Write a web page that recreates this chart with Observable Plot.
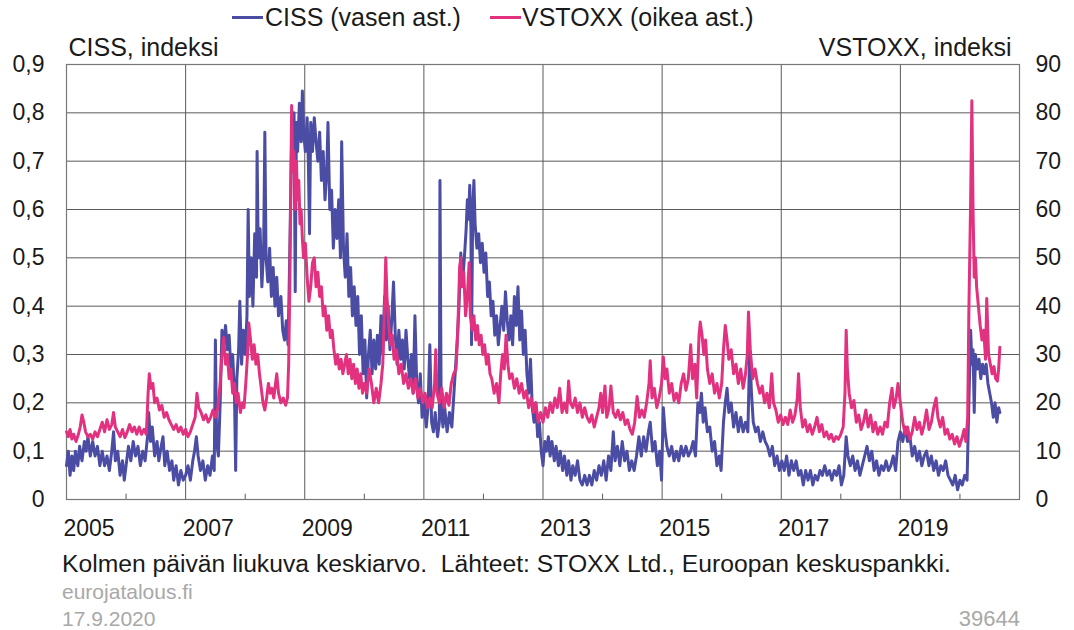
<!DOCTYPE html>
<html>
<head>
<meta charset="utf-8">
<script src="https://cdn.jsdelivr.net/npm/d3@7"></script>
<script src="https://cdn.jsdelivr.net/npm/@observablehq/plot@0.6"></script>
<style>
  html, body { margin: 0; padding: 0; background: #fff; }
  body { width: 1074px; height: 630px; overflow: hidden; font-family: "Liberation Sans", Arial, sans-serif; color: #1a1a1a; }
  #legend { position: relative; height: 20px; font-size: 25px; z-index: 2; }
  #legend .sw { position: absolute; top: 16px; height: 3px; width: 31px; }
  #legend .lb { position: absolute; top: 0; line-height: 34px; white-space: nowrap; }
  #chart { position: relative; z-index: 1; }
  #footer { padding-left: 62px; padding-right: 54px; }
  #footer .l1 { font-size: 24.7px; line-height: 30px; padding-top: 4px; white-space: nowrap; }
  #footer .l2 { font-size: 21px; line-height: 26px; color: #a8a8a8; }
  #footer .l3 { font-size: 21px; line-height: 27px; color: #a8a8a8; display: flex; justify-content: space-between; }
  #footer .l3 span:last-child { font-size: 22px; }
</style>
</head>
<body>
<div id="legend">
  <div class="sw" style="left:232px;background:#4b4ca3"></div>
  <div class="lb" style="left:265px">CISS (vasen ast.)</div>
  <div class="sw" style="left:490px;background:#e2317f"></div>
  <div class="lb" style="left:522px">VSTOXX (oikea ast.)</div>
</div>
<div id="chart"></div>
<div id="footer">
  <div class="l1">Kolmen päivän liukuva keskiarvo.&nbsp; Lähteet: STOXX Ltd., Euroopan keskuspankki.</div>
  <div class="l2">eurojatalous.fi</div>
  <div class="l3"><span>17.9.2020</span><span>39644</span></div>
</div>
<script>
// CISS (left axis, index)
const ciss = [
[2005.00,0.07],[2005.03,0.10],[2005.06,0.05],[2005.09,0.09],[2005.12,0.06],[2005.15,0.10],[2005.19,0.07],[2005.22,0.11],[2005.26,0.08],[2005.30,0.12],
[2005.33,0.10],[2005.36,0.13],[2005.40,0.09],[2005.44,0.12],[2005.48,0.09],[2005.52,0.11],[2005.56,0.07],[2005.60,0.10],[2005.64,0.07],[2005.68,0.09],
[2005.72,0.06],[2005.76,0.10],[2005.79,0.14],[2005.82,0.08],[2005.86,0.10],[2005.90,0.05],[2005.94,0.08],[2005.97,0.04],
[2006.00,0.07],[2006.04,0.11],[2006.08,0.08],[2006.12,0.12],[2006.16,0.09],[2006.20,0.11],[2006.24,0.07],[2006.28,0.10],[2006.32,0.08],[2006.36,0.13],
[2006.38,0.18],[2006.41,0.12],[2006.44,0.15],[2006.48,0.09],[2006.52,0.12],[2006.55,0.08],[2006.59,0.11],[2006.62,0.13],[2006.65,0.07],[2006.69,0.10],
[2006.73,0.06],[2006.77,0.08],[2006.80,0.04],[2006.84,0.07],[2006.88,0.03],[2006.92,0.06],[2006.96,0.04],
[2007.00,0.05],[2007.04,0.07],[2007.08,0.04],[2007.12,0.08],[2007.15,0.10],[2007.18,0.13],[2007.21,0.09],[2007.25,0.06],[2007.29,0.08],[2007.33,0.04],
[2007.37,0.07],[2007.41,0.05],[2007.45,0.09],[2007.48,0.06],[2007.50,0.33],[2007.52,0.12],[2007.55,0.09],[2007.58,0.20],[2007.61,0.35],[2007.64,0.32],
[2007.67,0.36],[2007.70,0.31],[2007.73,0.34],[2007.76,0.27],[2007.79,0.30],[2007.82,0.22],[2007.84,0.06],[2007.86,0.25],[2007.89,0.31],[2007.91,0.41],
[2007.94,0.28],[2007.97,0.35],
[2008.00,0.30],[2008.03,0.38],[2008.05,0.60],[2008.07,0.42],[2008.10,0.50],[2008.13,0.40],[2008.16,0.55],[2008.19,0.46],[2008.20,0.72],[2008.22,0.50],
[2008.25,0.56],[2008.28,0.44],[2008.31,0.52],[2008.33,0.76],[2008.35,0.50],[2008.38,0.45],[2008.41,0.52],[2008.44,0.42],[2008.47,0.48],[2008.50,0.40],
[2008.53,0.46],[2008.56,0.38],[2008.60,0.42],[2008.63,0.35],[2008.66,0.33],[2008.69,0.37],[2008.72,0.32],[2008.74,0.45],[2008.76,0.60],[2008.78,0.75],
[2008.80,0.68],[2008.82,0.80],[2008.84,0.43],[2008.86,0.78],[2008.88,0.72],[2008.91,0.82],[2008.94,0.74],[2008.96,0.845],[2008.98,0.76],
[2009.01,0.72],[2009.04,0.79],[2009.06,0.70],[2009.08,0.55],[2009.10,0.78],[2009.13,0.72],[2009.16,0.79],[2009.19,0.74],[2009.22,0.70],[2009.25,0.76],
[2009.28,0.66],[2009.31,0.72],[2009.34,0.62],[2009.37,0.68],[2009.39,0.78],[2009.42,0.60],[2009.45,0.64],[2009.48,0.52],[2009.51,0.60],[2009.54,0.54],
[2009.57,0.62],[2009.60,0.50],[2009.62,0.74],[2009.65,0.52],[2009.68,0.46],[2009.71,0.55],[2009.74,0.42],[2009.77,0.48],[2009.80,0.38],[2009.83,0.44],
[2009.86,0.36],[2009.89,0.42],[2009.92,0.30],[2009.95,0.38],[2009.98,0.26],
[2010.01,0.33],[2010.04,0.21],[2010.07,0.30],[2010.10,0.35],[2010.13,0.26],[2010.16,0.33],[2010.19,0.27],[2010.22,0.34],[2010.25,0.28],[2010.28,0.38],
[2010.31,0.30],[2010.34,0.42],[2010.37,0.33],[2010.40,0.40],[2010.43,0.31],[2010.46,0.37],[2010.49,0.45],[2010.52,0.34],[2010.55,0.28],[2010.58,0.35],
[2010.61,0.29],[2010.64,0.33],[2010.67,0.27],[2010.70,0.35],[2010.73,0.29],[2010.76,0.25],[2010.79,0.30],[2010.82,0.22],[2010.85,0.38],[2010.88,0.24],
[2010.91,0.20],[2010.94,0.26],[2010.97,0.17],
[2011.00,0.21],[2011.04,0.15],[2011.07,0.19],[2011.10,0.32],[2011.13,0.16],[2011.16,0.14],[2011.19,0.18],[2011.23,0.13],[2011.26,0.16],[2011.27,0.66],
[2011.29,0.20],[2011.32,0.15],[2011.35,0.19],[2011.39,0.14],[2011.43,0.18],[2011.47,0.15],[2011.50,0.21],[2011.53,0.27],[2011.56,0.33],[2011.59,0.40],
[2011.62,0.51],[2011.65,0.45],[2011.68,0.50],[2011.71,0.56],[2011.73,0.62],[2011.75,0.58],[2011.77,0.65],[2011.79,0.56],[2011.80,0.32],[2011.82,0.60],
[2011.84,0.66],[2011.86,0.57],[2011.89,0.52],[2011.92,0.55],[2011.95,0.49],[2011.98,0.53],
[2012.01,0.47],[2012.04,0.51],[2012.07,0.42],[2012.10,0.45],[2012.13,0.38],[2012.16,0.41],[2012.19,0.34],[2012.22,0.38],[2012.25,0.32],[2012.28,0.36],
[2012.31,0.40],[2012.34,0.35],[2012.37,0.43],[2012.40,0.37],[2012.43,0.33],[2012.46,0.38],[2012.49,0.32],[2012.52,0.42],[2012.55,0.36],[2012.58,0.44],
[2012.61,0.33],[2012.64,0.39],[2012.67,0.30],[2012.70,0.35],[2012.73,0.26],[2012.76,0.22],[2012.79,0.29],[2012.82,0.19],[2012.85,0.16],[2012.88,0.20],
[2012.91,0.13],[2012.94,0.16],[2012.97,0.10],
[2013.00,0.07],[2013.03,0.12],[2013.06,0.10],[2013.09,0.13],[2013.12,0.09],[2013.15,0.12],[2013.19,0.08],[2013.22,0.11],[2013.26,0.07],[2013.29,0.10],
[2013.33,0.06],[2013.36,0.09],[2013.40,0.05],[2013.43,0.08],[2013.47,0.04],[2013.50,0.07],[2013.54,0.05],[2013.58,0.08],[2013.62,0.04],[2013.66,0.03],
[2013.70,0.05],[2013.74,0.03],[2013.78,0.05],[2013.82,0.03],[2013.86,0.06],[2013.90,0.04],[2013.94,0.07],[2013.98,0.05],
[2014.02,0.08],[2014.06,0.04],[2014.10,0.09],[2014.14,0.06],[2014.18,0.14],[2014.21,0.08],[2014.25,0.11],[2014.29,0.07],[2014.33,0.12],[2014.37,0.08],
[2014.41,0.10],[2014.45,0.06],[2014.49,0.08],[2014.53,0.06],[2014.57,0.09],[2014.61,0.13],[2014.65,0.09],[2014.69,0.13],[2014.73,0.10],[2014.77,0.14],
[2014.80,0.16],[2014.84,0.10],[2014.88,0.12],[2014.92,0.07],[2014.96,0.10],[2014.99,0.04],
[2015.02,0.19],[2015.05,0.14],[2015.08,0.11],[2015.12,0.09],[2015.16,0.11],[2015.20,0.08],[2015.24,0.10],[2015.28,0.08],[2015.32,0.11],[2015.36,0.09],
[2015.40,0.11],[2015.44,0.09],[2015.48,0.10],[2015.52,0.12],[2015.56,0.09],[2015.60,0.20],[2015.63,0.18],[2015.66,0.22],[2015.69,0.16],[2015.72,0.19],
[2015.76,0.14],[2015.80,0.15],[2015.84,0.10],[2015.88,0.12],[2015.92,0.07],[2015.96,0.09],[2015.99,0.06],
[2016.03,0.16],[2016.06,0.20],[2016.09,0.23],[2016.12,0.18],[2016.16,0.20],[2016.20,0.15],[2016.24,0.18],[2016.28,0.14],[2016.32,0.17],[2016.36,0.14],
[2016.40,0.16],[2016.44,0.14],[2016.47,0.31],[2016.50,0.22],[2016.53,0.16],[2016.57,0.14],[2016.61,0.15],[2016.65,0.12],[2016.69,0.14],[2016.73,0.12],
[2016.77,0.11],[2016.81,0.09],[2016.85,0.11],[2016.89,0.07],[2016.93,0.09],[2016.97,0.06],
[2017.01,0.08],[2017.05,0.06],[2017.09,0.09],[2017.13,0.05],[2017.17,0.08],[2017.21,0.06],[2017.25,0.08],[2017.29,0.05],[2017.33,0.06],[2017.37,0.03],
[2017.41,0.06],[2017.45,0.04],[2017.49,0.06],[2017.53,0.03],[2017.57,0.05],[2017.61,0.04],[2017.65,0.06],[2017.69,0.05],[2017.73,0.07],[2017.77,0.05],
[2017.81,0.06],[2017.85,0.04],[2017.89,0.06],[2017.93,0.05],[2017.97,0.07],
[2018.01,0.03],[2018.05,0.05],[2018.09,0.13],[2018.12,0.09],[2018.16,0.07],[2018.20,0.09],[2018.24,0.06],[2018.28,0.08],[2018.32,0.05],[2018.36,0.07],
[2018.40,0.09],[2018.44,0.11],[2018.48,0.08],[2018.52,0.10],[2018.56,0.06],[2018.60,0.08],[2018.64,0.05],[2018.68,0.07],[2018.72,0.06],[2018.76,0.08],
[2018.80,0.06],[2018.84,0.07],[2018.88,0.09],[2018.92,0.06],[2018.96,0.12],
[2019.00,0.14],[2019.04,0.12],[2019.08,0.15],[2019.12,0.12],[2019.16,0.13],[2019.20,0.09],[2019.24,0.11],[2019.28,0.08],[2019.32,0.10],[2019.36,0.07],
[2019.40,0.09],[2019.44,0.10],[2019.48,0.07],[2019.52,0.09],[2019.56,0.06],[2019.60,0.08],[2019.64,0.05],[2019.68,0.07],[2019.72,0.06],[2019.76,0.08],
[2019.80,0.05],[2019.84,0.04],[2019.88,0.03],[2019.92,0.05],[2019.96,0.02],
[2020.00,0.04],[2020.04,0.03],[2020.08,0.05],[2020.12,0.04],[2020.15,0.20],[2020.18,0.35],[2020.20,0.28],[2020.22,0.31],[2020.24,0.18],[2020.26,0.30],
[2020.29,0.27],[2020.32,0.29],[2020.35,0.25],[2020.38,0.28],[2020.41,0.26],[2020.44,0.28],[2020.47,0.24],[2020.50,0.22],[2020.53,0.20],[2020.56,0.17],
[2020.59,0.20],[2020.62,0.16],[2020.65,0.19],[2020.67,0.18]
];

// VSTOXX (right axis, index)
const vstoxx = [
[2005.00,14],[2005.03,13],[2005.06,14.5],[2005.09,12.5],[2005.12,13.5],[2005.16,12],[2005.20,13.5],[2005.23,15],[2005.26,17.5],[2005.29,16],
[2005.32,14],[2005.36,13],[2005.40,13.5],[2005.44,12.5],[2005.48,14],[2005.52,13],[2005.56,14.5],[2005.60,16],[2005.64,14],[2005.68,16.5],
[2005.72,14.5],[2005.76,15.5],[2005.79,18],[2005.82,15],[2005.86,14],[2005.90,13],[2005.94,14.5],[2005.98,12.8],
[2006.02,14],[2006.06,15.5],[2006.10,14],[2006.14,15],[2006.18,13.5],[2006.22,15],[2006.26,13.5],[2006.30,14.5],[2006.34,13.5],[2006.37,22],
[2006.39,26],[2006.42,23],[2006.45,24],[2006.48,20],[2006.52,21],[2006.56,18.5],[2006.60,19.5],[2006.64,17],[2006.68,18],[2006.72,16.5],
[2006.76,15.5],[2006.80,14.5],[2006.84,15.5],[2006.88,14],[2006.92,15],[2006.96,13.5],
[2007.00,14.5],[2007.04,13],[2007.08,14],[2007.12,15.5],[2007.16,17],[2007.19,22],[2007.22,19],[2007.26,18],[2007.30,16.5],[2007.34,17.5],
[2007.38,16],[2007.42,17],[2007.46,18.5],[2007.50,17],[2007.54,19],[2007.58,24],[2007.61,30],[2007.64,33.5],[2007.67,28],[2007.70,30],
[2007.73,25],[2007.76,27],[2007.79,22],[2007.82,24],[2007.85,20],[2007.88,22],[2007.92,18],[2007.95,20],[2007.98,19],
[2008.01,24],[2008.04,30],[2008.06,36.5],[2008.09,33],[2008.12,29],[2008.15,32],[2008.18,28],[2008.21,30],[2008.24,26],[2008.27,23],
[2008.30,20],[2008.33,18.5],[2008.36,21],[2008.39,24],[2008.42,22],[2008.45,23],[2008.48,21],[2008.51,24],[2008.53,26],[2008.56,22],
[2008.60,20],[2008.64,21],[2008.68,19.5],[2008.71,21],[2008.73,28],[2008.75,45],[2008.78,81.5],[2008.80,68],[2008.82,72],[2008.84,60],
[2008.86,70],[2008.88,62],[2008.90,66],[2008.92,57],[2008.94,60],[2008.96,54],[2008.98,50],
[2009.01,53],[2009.04,46],[2009.07,41],[2009.10,44],[2009.13,49],[2009.16,50],[2009.19,44],[2009.22,47],[2009.25,42],[2009.28,44],
[2009.31,38],[2009.34,40],[2009.37,35],[2009.40,38],[2009.43,33.5],[2009.46,35],[2009.49,31],[2009.52,28],[2009.55,30],[2009.58,27],
[2009.61,29],[2009.64,26],[2009.67,28],[2009.70,30],[2009.73,26],[2009.76,29],[2009.79,25],[2009.82,28],[2009.85,24],[2009.88,27],
[2009.91,23],[2009.94,26],[2009.97,22],
[2010.00,24],[2010.04,22],[2010.08,27],[2010.12,24],[2010.16,20],[2010.20,23],[2010.24,20],[2010.28,24],[2010.31,28],[2010.34,40],
[2010.36,50],[2010.38,42],[2010.41,36],[2010.44,32],[2010.47,34],[2010.50,29],[2010.54,31],[2010.58,26],[2010.62,28],[2010.66,24],
[2010.70,26],[2010.74,23],[2010.78,25],[2010.82,22],[2010.86,25],[2010.90,21],[2010.94,23],[2010.98,20],
[2011.02,22],[2011.06,19],[2011.10,21],[2011.14,19],[2011.18,24],[2011.20,31],[2011.22,22],[2011.26,20],[2011.30,23],[2011.34,19],
[2011.38,22],[2011.42,19.5],[2011.46,24],[2011.50,26],[2011.54,27],[2011.57,35],[2011.60,48],[2011.62,50],[2011.64,44],[2011.67,47],
[2011.70,38],[2011.73,42],[2011.76,49],[2011.78,38],[2011.81,35],[2011.84,38],[2011.87,33],[2011.90,36],[2011.93,32],[2011.96,34],[2011.99,30],
[2012.02,32],[2012.05,28],[2012.08,30],[2012.11,26],[2012.14,25],[2012.18,22],[2012.22,24],[2012.26,20],[2012.29,26],[2012.32,30],
[2012.35,27],[2012.38,34],[2012.41,28],[2012.44,25],[2012.48,26],[2012.52,23],[2012.56,25],[2012.60,22],[2012.64,24],[2012.68,21],
[2012.72,22.5],[2012.76,19],[2012.80,21],[2012.84,18],[2012.88,20],[2012.92,16],[2012.96,18],
[2013.00,16],[2013.04,19],[2013.08,17],[2013.12,20],[2013.16,18],[2013.20,21],[2013.24,19],[2013.28,23],[2013.32,18],[2013.36,20],
[2013.40,18],[2013.43,24.5],[2013.46,20],[2013.50,19],[2013.54,21],[2013.58,18],[2013.62,20],[2013.66,17],[2013.70,19],[2013.74,17],
[2013.78,16],[2013.82,17.5],[2013.86,15],[2013.90,17],[2013.94,19],[2013.97,22],
[2014.00,18],[2014.04,23.5],[2014.07,17],[2014.11,19],[2014.14,23.5],[2014.18,18],[2014.22,17],[2014.26,18.5],[2014.30,16.5],[2014.34,18],
[2014.38,15.5],[2014.42,16.5],[2014.46,14.5],[2014.50,13.5],[2014.54,16],[2014.58,21.3],[2014.62,17],[2014.66,18.5],[2014.70,17],[2014.74,20],
[2014.78,24],[2014.80,28.7],[2014.83,21],[2014.87,23],[2014.91,19],[2014.95,21],[2014.99,24],
[2015.02,29.5],[2015.05,25],[2015.08,27],[2015.12,22],[2015.16,24],[2015.20,20.5],[2015.24,22],[2015.28,20],[2015.32,24],[2015.36,26],
[2015.40,22.6],[2015.44,25],[2015.48,32],[2015.51,25],[2015.55,28],[2015.58,21],[2015.62,34],[2015.64,36.7],[2015.67,34],[2015.70,30],
[2015.73,33],[2015.76,27],[2015.80,24],[2015.84,26],[2015.88,22],[2015.92,24],[2015.96,21],
[2016.00,24],[2016.03,31],[2016.06,36],[2016.09,33],[2016.12,29],[2016.16,31],[2016.20,26],[2016.24,28],[2016.28,24],[2016.32,27],
[2016.36,23],[2016.40,26],[2016.43,30],[2016.45,38.8],[2016.48,31],[2016.52,25],[2016.56,27],[2016.60,24],[2016.64,22],[2016.68,23.5],
[2016.72,20],[2016.76,22],[2016.80,19],[2016.84,26],[2016.87,20],[2016.91,18.5],[2016.95,16],[2016.99,17.5],
[2017.03,15.5],[2017.07,17],[2017.11,15.5],[2017.15,18.5],[2017.19,16],[2017.23,17.5],[2017.27,21],[2017.29,26],[2017.32,19],[2017.36,15],
[2017.40,16.5],[2017.44,14],[2017.48,15.5],[2017.52,13.5],[2017.56,15],[2017.60,17],[2017.64,14],[2017.68,15.5],[2017.72,13],[2017.76,14],
[2017.80,12.5],[2017.84,13.5],[2017.88,12],[2017.92,13],[2017.96,12.5],
[2018.00,13.5],[2018.04,15],[2018.07,22],[2018.09,35],[2018.11,27],[2018.14,22],[2018.18,19],[2018.22,20.5],[2018.26,16],[2018.30,17.5],
[2018.34,14.5],[2018.38,16],[2018.42,18.5],[2018.46,15],[2018.50,17.5],[2018.54,14],[2018.58,16],[2018.62,13.5],[2018.66,15],[2018.70,13.5],
[2018.74,16],[2018.78,15],[2018.82,20],[2018.86,23],[2018.89,19],[2018.93,21],[2018.96,24],
[2019.00,20],[2019.04,16],[2019.08,13.5],[2019.12,15],[2019.16,12.5],[2019.20,14],[2019.24,17],[2019.28,14.5],[2019.32,16],[2019.36,13.5],
[2019.40,15.5],[2019.44,18.5],[2019.48,14.5],[2019.52,16],[2019.56,19],[2019.60,21],[2019.63,17],[2019.67,15],[2019.71,17],[2019.75,13.5],
[2019.79,14.5],[2019.83,12.5],[2019.87,13.5],[2019.91,11.5],[2019.95,13],[2019.99,11],
[2020.03,12.5],[2020.07,14.5],[2020.10,12],[2020.13,17],[2020.15,39],[2020.18,62],[2020.20,82.5],[2020.22,60],[2020.24,46],[2020.26,50],
[2020.28,44],[2020.31,40],[2020.34,36],[2020.37,33],[2020.40,35],[2020.43,29],[2020.45,41.6],[2020.48,30],[2020.51,28],[2020.54,26],
[2020.57,27.5],[2020.60,25],[2020.63,24.5],[2020.65,27],[2020.67,31.5]
];

const xDomain = [2005, 2021];
const gridYears = [2007, 2009, 2011, 2013, 2015, 2017, 2019];
const minorYears = [2006, 2008, 2010, 2012, 2014, 2016, 2018, 2020];
const labelYears = [2005, 2007, 2009, 2011, 2013, 2015, 2017, 2019];
const leftTicks = [0, 0.1, 0.2, 0.3, 0.4, 0.5, 0.6, 0.7, 0.8, 0.9];
const rightScale = 100; // VSTOXX 0–90 maps onto CISS 0–0.9
const leftTitle = "CISS, indeksi";
const rightTitle = "VSTOXX, indeksi";

const gridColor = "#5a5a5a";
const cissColor = "#4b4ca3";
const vstoxxColor = "#e2317f";

const chart = Plot.plot({
  width: 1074,
  height: 525,
  marginTop: 44,
  marginLeft: 66,
  marginRight: 55,
  marginBottom: 46,
  x: { domain: xDomain },
  y: { domain: [0, 0.9] },
  style: { fontFamily: "'Liberation Sans', Arial, sans-serif", fontSize: "23px", color: "#1a1a1a", background: "transparent" },
  marks: [
    Plot.gridY(leftTicks, { stroke: gridColor, strokeOpacity: 1, strokeWidth: 1 }),
    Plot.gridX(gridYears, { stroke: gridColor, strokeOpacity: 1, strokeWidth: 1 }),
    Plot.ruleX(minorYears, { y1: 0, y2: 0.011, stroke: gridColor, strokeWidth: 1 }),
    Plot.frame({ stroke: "#777", strokeWidth: 1.2 }),
    Plot.axisY(leftTicks, { anchor: "left", tickSize: 0, tickPadding: 22, label: null,
      tickFormat: d => d === 0 ? "0" : d.toFixed(1).replace(".", ",") }),
    Plot.axisY(leftTicks, { anchor: "right", tickSize: 0, tickPadding: 16, label: null, textAnchor: "start",
      tickFormat: d => String(Math.round(d * rightScale)) }),
    Plot.axisX(labelYears, { anchor: "bottom", tickSize: 0, tickPadding: 20, label: null, textAnchor: "start", dx: -3,
      tickFormat: d => String(d) }),
    Plot.line(ciss, { x: d => d[0], y: d => d[1], stroke: cissColor, strokeWidth: 3, strokeLinejoin: "round" }),
    Plot.line(vstoxx, { x: d => d[0], y: d => d[1] / rightScale, stroke: vstoxxColor, strokeWidth: 3, strokeLinejoin: "round" }),
    Plot.text([leftTitle], { frameAnchor: "top-left", textAnchor: "start", lineAnchor: "middle", dx: 2, dy: -17, fontSize: 25 }),
    Plot.text([rightTitle], { frameAnchor: "top-right", textAnchor: "end", lineAnchor: "middle", dx: -8, dy: -17, fontSize: 25 })
  ]
});
document.getElementById("chart").appendChild(chart);
</script>
</body>
</html>
